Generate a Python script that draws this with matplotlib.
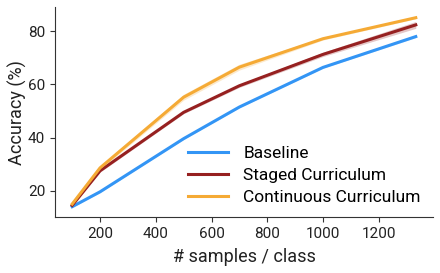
import numpy as np
import matplotlib
matplotlib.use("Agg")
import matplotlib.pyplot as plt
from matplotlib import font_manager

names = {f.name for f in font_manager.fontManager.ttflist}
narrow = "Liberation Sans Narrow" if "Liberation Sans Narrow" in names else "Roboto"
plt.rcParams["font.family"] = [narrow, "DejaVu Sans"]

samples = [100, 200, 500, 700, 1000, 1333]
baseline = [14.0, 19.6, 39.6, 51.5, 66.4, 78.0]
staged = [14.5, 27.5, 49.5, 59.5, 71.3, 82.4]
continuous = [15.0, 28.6, 55.2, 66.5, 77.2, 85.1]
baseline_sd = [0.3, 0.3, 0.3, 0.3, 0.3, 0.4]
staged_sd = [0.3, 0.5, 0.5, 0.6, 0.8, 1.3]
continuous_sd = [0.3, 0.7, 1.1, 1.1, 0.5, 0.4]

series = [
    ("Baseline", baseline, baseline_sd, "#3395F5"),
    ("Staged Curriculum", staged, staged_sd, "#962020"),
    ("Continuous Curriculum", continuous, continuous_sd, "#F5AA35"),
]

fig = plt.figure(figsize=(4.4, 2.73), dpi=100)
ax = fig.add_axes([0.125, 0.205, 0.859, 0.769])

for name, vals, sd, col in series:
    v = np.array(vals)
    s = np.array(sd)
    ax.fill_between(samples, v - s, v + s, color=col, alpha=0.25, lw=0)
    ax.plot(samples, v, color=col, lw=2.2, label=name)

ax.set_xticks([200, 400, 600, 800, 1000, 1200])
ax.set_yticks([20, 40, 60, 80])
ax.tick_params(labelsize=11, colors="#333333", labelcolor="#222222")
ax.set_xlabel("# samples / class", fontsize=13, color="#222222", labelpad=5)
ax.set_ylabel("Accuracy (%)", fontsize=13, color="#222222", labelpad=1)
for side in ["top", "right"]:
    ax.spines[side].set_visible(False)
for side in ["left", "bottom"]:
    ax.spines[side].set_color("#333333")

ax.legend(loc="lower right", frameon=False, fontsize=12.5, handlelength=2.3,
          handletextpad=0.9, labelspacing=0.4, borderaxespad=0.3)

fig.savefig("out.png", dpi=100)
